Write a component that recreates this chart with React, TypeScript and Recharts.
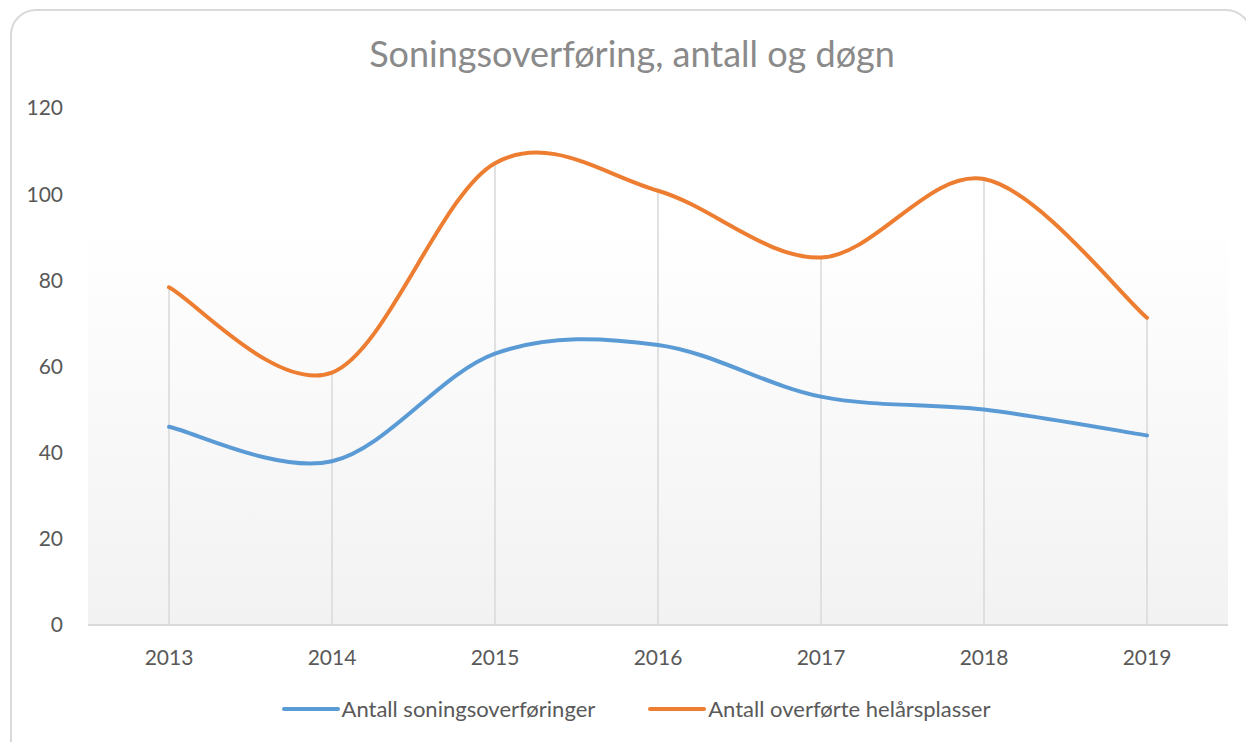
import React from 'react';
import { LineChart, Line, XAxis, YAxis, CartesianGrid, ReferenceLine, Legend } from 'recharts';

const years = ['2013', '2014', '2015', '2016', '2017', '2018', '2019'];
const soningsoverforinger = [46, 38, 63, 65, 53, 50, 44];
const helarsplasser = [78.4, 58.6, 107.2, 100.8, 85.3, 103.5, 71.3];
const yTicks = [0, 20, 40, 60, 80, 100, 120];

const seriesNames = ['Antall soningsoverføringer', 'Antall overførte helårsplasser'];
const colors = ['#5B9BD5', '#ED7D31'];

const data = years.map((y, i) => ({
  year: y,
  a: soningsoverforinger[i],
  b: helarsplasser[i],
}));

const FONT = 'Lato, "Open Sans", "Liberation Sans", sans-serif';

// Catmull-Rom style smoothing (like Excel's smoothed line)
function smoothCurve(context: any) {
  let pts: number[][] = [];
  return {
    areaStart() {},
    areaEnd() {},
    lineStart() {
      pts = [];
    },
    point(x: number, y: number) {
      pts.push([+x, +y]);
    },
    lineEnd() {
      if (!pts.length) return;
      context.moveTo(pts[0][0], pts[0][1]);
      for (let i = 0; i < pts.length - 1; i++) {
        const p0 = pts[i - 1] || pts[i];
        const p1 = pts[i];
        const p2 = pts[i + 1];
        const p3 = pts[i + 2] || p2;
        context.bezierCurveTo(
          p1[0] + (p2[0] - p0[0]) / 6,
          p1[1] + (p2[1] - p0[1]) / 6,
          p2[0] - (p3[0] - p1[0]) / 6,
          p2[1] - (p3[1] - p1[1]) / 6,
          p2[0],
          p2[1]
        );
      }
    },
  };
}

const renderLegend = (props: any) => {
  const payload = [...(props.payload || [])].sort(
    (p: any, q: any) => seriesNames.indexOf(p.value) - seriesNames.indexOf(q.value)
  );
  return (
    <div
      style={{
        display: 'flex',
        justifyContent: 'center',
        paddingLeft: 26,
        fontFamily: FONT,
        fontSize: 22,
        color: '#595959',
        lineHeight: '27px',
      }}
    >
      {payload.map((p: any, i: number) => (
        <div key={i} style={{ display: 'flex', alignItems: 'center', marginRight: i === 0 ? 53 : 0 }}>
          <svg width={58} height={10} style={{ marginRight: 2 }}>
            <line x1={2} y1={5} x2={56} y2={5} stroke={p.color} strokeWidth={4} strokeLinecap="round" />
          </svg>
          <span>{p.value}</span>
        </div>
      ))}
    </div>
  );
};

export default function App() {
  return (
    <div style={{ position: 'absolute', left: 0, top: 0, width: 1246, height: 742, overflow: 'hidden', background: '#fff' }}>
      <div
        style={{
          position: 'absolute',
          left: 10,
          top: 9,
          width: 1242,
          height: 760,
          border: '2px solid #d9d9d9',
          borderRadius: 26,
          boxSizing: 'border-box',
        }}
      />
      <div
        style={{
          position: 'absolute',
          left: 0,
          top: 31,
          width: 1264,
          textAlign: 'center',
          fontFamily: FONT,
          fontSize: 36,
          color: '#8a8a8a',
          lineHeight: '44px',
        }}
      >
        Soningsoverføring, antall og døgn
      </div>
      <div style={{ position: 'absolute', left: 0, top: 0 }}>
        <LineChart width={1246} height={742} data={data} margin={{ top: 108, left: 28, right: 18, bottom: 87 }}>
          <defs>
            <linearGradient id="plotBg" x1="0" y1="0" x2="0" y2="1">
              <stop offset="0%" stopColor="#ffffff" />
              <stop offset="22%" stopColor="#ffffff" />
              <stop offset="100%" stopColor="#f2f2f2" />
            </linearGradient>
          </defs>
          <CartesianGrid horizontal={false} vertical={false} fill="url(#plotBg)" fillOpacity={1} stroke="none" />
          <XAxis
            dataKey="year"
            height={30}
            axisLine={{ stroke: '#d9d9d9', strokeWidth: 2 }}
            tickLine={false}
            tickSize={0}
            tickMargin={25}
            padding={{ left: 81, right: 81 }}
            tick={{ fill: '#595959', fontSize: 21, fontFamily: FONT }}
            interval={0}
          />
          <YAxis
            width={60}
            domain={[0, 120]}
            ticks={yTicks}
            axisLine={false}
            tickLine={false}
            tickSize={0}
            tickMargin={25}
            tick={{ fill: '#595959', fontSize: 21, fontFamily: FONT }}
          />
          {years.map((y, i) => (
            <ReferenceLine
              key={y}
              segment={[
                { x: y, y: 0 },
                { x: y, y: helarsplasser[i] },
              ]}
              stroke="#d9d9d9"
              strokeWidth={1.5}
            />
          ))}
          <Line
            type={smoothCurve as any}
            dataKey="a"
            name={seriesNames[0]}
            stroke={colors[0]}
            strokeWidth={4}
            dot={false}
            activeDot={false}
            isAnimationActive={false}
            strokeLinecap="round"
          />
          <Line
            type={smoothCurve as any}
            dataKey="b"
            name={seriesNames[1]}
            stroke={colors[1]}
            strokeWidth={4}
            dot={false}
            activeDot={false}
            isAnimationActive={false}
            strokeLinecap="round"
          />
          <Legend
            content={renderLegend}
            layout="horizontal"
            verticalAlign="middle"
            align="center"
            wrapperStyle={{ position: 'absolute', top: 695, left: 0, width: 1246 }}
          />
        </LineChart>
      </div>
    </div>
  );
}
